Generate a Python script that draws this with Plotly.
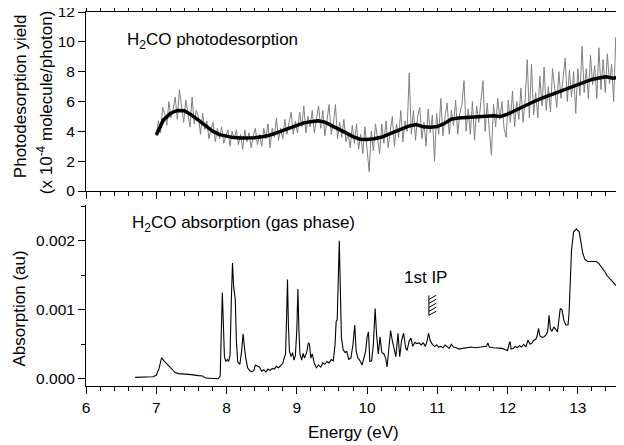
import numpy as np
import plotly.graph_objects as go

# photodesorption yield (x 1e-4 molecule/photon), raw, sampled every 0.03 eV from 7.00 eV
yield_start, yield_step = 7.00, 0.03
yield_raw = [
    3.7, 4.7, 3.9, 5.6, 5.2, 4.4, 6.0, 4.9, 5.5, 6.3,
    4.8, 6.8, 5.7, 4.6, 6.1, 5.2, 4.3, 6.3, 4.5, 5.4,
    5.0, 3.8, 5.2, 4.1, 4.7, 3.5, 4.2, 4.6, 3.3, 4.2,
    3.5, 4.3, 3.2, 3.7, 4.1, 3.0, 4.0, 3.5, 4.1, 3.1,
    3.8, 2.8, 4.1, 3.3, 3.9, 2.9, 3.7, 4.2, 3.1, 3.8,
    3.0, 4.2, 3.5, 4.5, 2.9, 4.2, 3.6, 4.9, 3.4, 4.2,
    3.5, 4.8, 3.8, 4.6, 5.3, 3.8, 4.7, 3.9, 5.3, 4.3,
    5.7, 3.9, 5.0, 4.3, 5.4, 3.9, 4.9, 5.7, 4.2, 5.4,
    3.7, 4.9, 5.8, 3.8, 4.5, 5.8, 3.5, 4.6, 3.6, 4.8,
    3.3, 3.9, 2.9, 4.4, 3.2, 4.5, 2.8, 3.8, 2.5, 4.3,
    2.9, 1.3, 4.0, 2.7, 4.5, 3.6, 2.5, 4.5, 3.2, 4.7,
    2.9, 4.0, 5.0, 3.0, 4.5, 3.6, 5.4, 3.3, 4.7, 4.0,
    7.9, 3.8, 5.4, 3.4, 5.0, 5.6, 3.5, 4.6, 3.0, 5.5,
    3.9, 5.1, 2.0, 5.2, 3.8, 6.2, 3.7, 5.0, 5.9, 3.8,
    5.4, 4.4, 6.1, 3.8, 5.2, 5.8, 7.4, 4.0, 5.5, 3.8,
    6.0, 3.4, 5.7, 4.6, 5.9, 7.4, 4.0, 5.9, 4.1, 2.4,
    5.8, 4.3, 6.2, 4.8, 6.0, 4.2, 3.6, 6.1, 4.6, 6.7,
    4.3, 6.0, 4.8, 6.9, 4.6, 6.1, 8.8, 4.9, 8.5, 5.1,
    6.6, 4.9, 7.7, 5.7, 8.3, 5.4, 7.0, 5.3, 8.2, 6.8,
    5.6, 8.0, 6.2, 7.6, 8.9, 6.0, 8.1, 6.3, 8.0, 5.2,
    8.2, 6.4, 9.7, 6.6, 8.2, 6.2, 9.1, 7.1, 8.4, 6.2,
    9.6, 6.8, 8.8, 6.6, 9.2, 7.2, 8.5, 6.0, 10.3, 6.6,
    8.3,
]
yield_energy = np.round(yield_start + yield_step * np.arange(len(yield_raw)), 3)

# smoothed yield, every 0.1 eV
smooth_energy = [
    7.0, 7.1, 7.2, 7.3, 7.4, 7.5, 7.6, 7.7, 7.8, 7.9,
    8.0, 8.1, 8.2, 8.3, 8.4, 8.5, 8.6, 8.7, 8.8, 8.9,
    9.0, 9.1, 9.2, 9.3, 9.4, 9.5, 9.6, 9.7, 9.8, 9.9,
    10.0, 10.1, 10.2, 10.3, 10.4, 10.5, 10.6, 10.7, 10.8, 10.9,
    11.0, 11.1, 11.2, 11.3, 11.4, 11.5, 11.6, 11.7, 11.8, 11.9,
    12.0, 12.1, 12.2, 12.3, 12.4, 12.5, 12.6, 12.7, 12.8, 12.9,
    13.0, 13.1, 13.2, 13.3, 13.4, 13.5, 13.6,
]
smooth_yield = [
    3.75, 4.75, 5.2, 5.4, 5.38, 5.1, 4.75, 4.35, 4.02, 3.78,
    3.66, 3.58, 3.56, 3.56, 3.57, 3.63, 3.72, 3.88, 4.06, 4.27,
    4.44, 4.57, 4.65, 4.7, 4.62, 4.4, 4.12, 3.9, 3.65, 3.47,
    3.46, 3.5, 3.6, 3.78, 4.0, 4.2, 4.36, 4.45, 4.3, 4.27,
    4.32, 4.52, 4.82, 4.9, 4.93, 4.96, 5.0, 5.04, 5.04, 5.0,
    5.15, 5.38, 5.62, 5.85, 6.05, 6.25, 6.43, 6.62, 6.8, 7.0,
    7.18, 7.36, 7.48, 7.58, 7.65, 7.56, 7.62,
]

# gas phase absorption (units of 0.001 au)
abs_energy = [
    6.70, 6.80, 6.90, 6.95, 7.00, 7.04, 7.07, 7.08, 7.11, 7.15,
    7.19, 7.23, 7.27, 7.32, 7.40, 7.50, 7.60, 7.66, 7.70, 7.80,
    7.88, 7.91, 7.925, 7.94, 7.955, 7.97, 7.99, 8.01, 8.03, 8.05,
    8.07, 8.085, 8.10, 8.115, 8.125, 8.14, 8.16, 8.19, 8.215, 8.235,
    8.25, 8.27, 8.30, 8.33, 8.36, 8.39, 8.41, 8.44, 8.47, 8.50,
    8.53, 8.56, 8.59, 8.62, 8.65, 8.68, 8.71, 8.74, 8.77, 8.80,
    8.82, 8.84, 8.855, 8.868, 8.88, 8.895, 8.92, 8.94, 8.96, 8.98,
    9.00, 9.016, 9.03, 9.045, 9.07, 9.09, 9.11, 9.14, 9.165, 9.18,
    9.20, 9.22, 9.25, 9.28, 9.31, 9.34, 9.37, 9.40, 9.43, 9.46,
    9.49, 9.52, 9.545, 9.56, 9.575, 9.59, 9.605, 9.62, 9.635, 9.66,
    9.69, 9.71, 9.74, 9.77, 9.80, 9.825, 9.845, 9.87, 9.90, 9.93,
    9.96, 9.98, 10.00, 10.02, 10.04, 10.065, 10.09, 10.115, 10.135, 10.16,
    10.185, 10.21, 10.24, 10.265, 10.285, 10.31, 10.335, 10.36, 10.39, 10.41,
    10.44, 10.465, 10.49, 10.52, 10.55, 10.57, 10.60, 10.625, 10.65, 10.68,
    10.71, 10.74, 10.77, 10.80, 10.83, 10.855, 10.875, 10.90, 10.93, 10.96,
    10.99, 11.02, 11.05, 11.08, 11.11, 11.14, 11.17, 11.20, 11.23, 11.27,
    11.31, 11.36, 11.42, 11.48, 11.54, 11.60, 11.66, 11.70, 11.72, 11.74,
    11.80, 11.86, 11.92, 11.97, 12.00, 12.02, 12.035, 12.05, 12.08, 12.11,
    12.14, 12.17, 12.20, 12.23, 12.26, 12.29, 12.32, 12.35, 12.37, 12.40,
    12.42, 12.44, 12.46, 12.49, 12.52, 12.55, 12.57, 12.59, 12.61, 12.63,
    12.66, 12.69, 12.71, 12.73, 12.75, 12.775, 12.80, 12.83, 12.86, 12.875,
    12.89, 12.91, 12.94, 12.98, 13.02, 13.045, 13.07, 13.10, 13.14, 13.20,
    13.26, 13.30, 13.34, 13.38, 13.42, 13.46, 13.50, 13.54, 13.58, 13.60,
]
abs_milli = [
    0.02, 0.025, 0.02, 0.03, 0.05, 0.15, 0.28, 0.30, 0.26, 0.22,
    0.17, 0.13, 0.09, 0.075, 0.07, 0.06, 0.045, 0.04, 0.01, 0.0,
    0.0, 0.04, 0.5, 1.25, 0.8, 0.32, 0.25, 0.28, 0.25, 0.34,
    1.2, 1.68, 1.35, 1.2, 1.15, 0.55, 0.24, 0.21, 0.4, 0.65,
    0.45, 0.32, 0.16, 0.12, 0.1, 0.12, 0.2, 0.19, 0.17, 0.11,
    0.13, 0.1, 0.14, 0.12, 0.15, 0.14, 0.18, 0.16, 0.19, 0.22,
    0.3, 0.36, 0.9, 1.44, 0.8, 0.4, 0.32, 0.38, 0.27, 0.34,
    0.7, 1.30, 0.7, 0.36, 0.27, 0.37, 0.3, 0.38, 0.52, 0.5,
    0.3, 0.36, 0.22, 0.16, 0.2, 0.17, 0.23, 0.21, 0.25, 0.23,
    0.28, 0.26, 0.5, 0.83, 0.85, 1.5, 2.0, 1.3, 0.6, 0.42,
    0.38, 0.4, 0.28, 0.3, 0.5, 0.78, 0.4, 0.3, 0.26, 0.2,
    0.3, 0.4, 0.6, 0.68, 0.25, 0.26, 0.5, 1.02, 0.65, 0.36,
    0.61, 0.38, 0.36, 0.3, 0.17, 0.45, 0.70, 0.55, 0.42, 0.32,
    0.66, 0.32, 0.55, 0.66, 0.45, 0.41, 0.55, 0.59, 0.47, 0.53,
    0.51, 0.52, 0.49, 0.52, 0.47, 0.55, 0.66, 0.55, 0.5, 0.47,
    0.49, 0.46, 0.47, 0.45, 0.49, 0.46, 0.44, 0.50, 0.46, 0.45,
    0.43, 0.44, 0.45, 0.46, 0.45, 0.46, 0.46, 0.47, 0.52, 0.46,
    0.45, 0.45, 0.44, 0.42, 0.41, 0.5, 0.54, 0.43, 0.44, 0.47,
    0.45, 0.48, 0.46, 0.5, 0.46, 0.56, 0.5, 0.52, 0.56, 0.57,
    0.62, 0.73, 0.62, 0.6, 0.61, 0.64, 0.68, 0.92, 0.72, 0.69,
    0.75, 0.71, 0.68, 0.85, 1.02, 1.0, 0.85, 0.78, 0.78, 0.95,
    1.29, 1.87, 2.13, 2.17, 2.13, 2.0, 1.82, 1.73, 1.70, 1.70,
    1.70, 1.67, 1.62, 1.56, 1.49, 1.44, 1.40, 1.36, 1.32, 1.31,
]
absorption = np.array(abs_milli) * 1e-3

# first ionisation potential marker
ip_energy = 10.88
ip_low, ip_high = 0.00092, 0.00121

font = "Liberation Sans, Arial, sans-serif"

# the page body has an 8px margin, so the figure is made 8px smaller and the
# left/top margins are trimmed by 8px to keep the plot area where it belongs
PAGE_PAD = 8
W, H = 624 - PAGE_PAD, 445 - PAGE_PAD
L, R, T, B = 86 - PAGE_PAD, 4, 12 - PAGE_PAD, 59
PLOT_W = W - L - R

fig = go.Figure()
fig.add_trace(go.Scatter(x=yield_energy, y=yield_raw, mode="lines",
                         line=dict(color="#808080", width=1), xaxis="x", yaxis="y"))
fig.add_trace(go.Scatter(x=smooth_energy, y=smooth_yield, mode="lines",
                         line=dict(color="black", width=3.5), xaxis="x", yaxis="y"))
fig.add_trace(go.Scatter(x=abs_energy, y=absorption, mode="lines",
                         line=dict(color="black", width=1.1), xaxis="x2", yaxis="y2"))

# IP bar with hatching
hx, hy = [ip_energy, ip_energy, None], [ip_low, ip_high, None]
for k in range(5):
    y0 = ip_low + k * (ip_high - ip_low - 0.00006) / 4
    hx += [ip_energy, ip_energy + 0.105, None]
    hy += [y0, y0 + 0.00006, None]
fig.add_trace(go.Scatter(x=hx, y=hy, mode="lines", line=dict(color="black", width=1),
                         xaxis="x2", yaxis="y2"))

axis_common = dict(showgrid=False, zeroline=False, showline=True, linecolor="black",
                   linewidth=1, ticks="outside", tickcolor="black", tickwidth=1,
                   ticklen=7, tickfont=dict(size=15.5, color="black", family=font),
                   automargin=False, ticklabeloverflow="allow")
xminor = dict(dtick=0.2, ticks="outside", ticklen=4, tickcolor="black", tickwidth=1)

fig.update_layout(
    width=W, height=H,
    margin=dict(l=L, r=R, t=T, b=B),
    paper_bgcolor="white", plot_bgcolor="white",
    showlegend=False,
    font=dict(family=font, color="black", size=17),
    xaxis=dict(axis_common, domain=[0, 1], range=[6, 13.6], dtick=1, mirror="ticks",
               showticklabels=False, minor=xminor, anchor="y"),
    yaxis=dict(axis_common, domain=[0.5214, 1], range=[0, 12], dtick=2, mirror="ticks",
               anchor="x"),
    xaxis2=dict(axis_common, domain=[0, 1], range=[6, 13.6], dtick=1, mirror=False,
                minor=xminor, anchor="y2"),
    yaxis2=dict(axis_common, domain=[0, 0.484], range=[-0.000105, 0.00252], dtick=0.001,
                tickformat=".3f", mirror="ticks", anchor="x2",
                minor=dict(dtick=0.0005, ticks="outside", ticklen=4, tickcolor="black",
                           tickwidth=1)),
)

# x positions given > 1 are screen pixels, converted to paper units
notes = [
    dict(text="H<sub>2</sub>CO photodesorption", x=6.56, y=10.05, xref="x", yref="y",
         xanchor="left", yanchor="middle"),
    dict(text="H<sub>2</sub>CO absorption (gas phase)", x=6.632, y=0.00225, xref="x2",
         yref="y2", xanchor="left", yanchor="middle"),
    dict(text="1st IP", x=10.83, y=0.001467, xref="x2", yref="y2",
         xanchor="center", yanchor="middle"),
    dict(text="Photodesorption yield", x=20, y=0.775, xref="paper", yref="paper",
         textangle=-90, xanchor="center", yanchor="middle"),
    dict(text="(x 10<sup>-4</sup> molecule/photon)", x=45, y=0.759, xref="paper",
         yref="paper", textangle=-90, xanchor="center", yanchor="middle"),
    dict(text="Absorption (au)", x=20, y=0.207, xref="paper", yref="paper",
         textangle=-90, xanchor="center", yanchor="middle"),
    dict(text="Energy (eV)", x=0.5, y=-0.123, xref="paper", yref="paper",
         xanchor="center", yanchor="middle"),
]
for n in notes:
    if n["xref"] == "paper" and n["x"] > 1:
        n["x"] = (n["x"] - 86) / PLOT_W
    fig.add_annotation(showarrow=False, font=dict(size=17, family=font, color="black"), **n)

fig.write_html("out.html")
